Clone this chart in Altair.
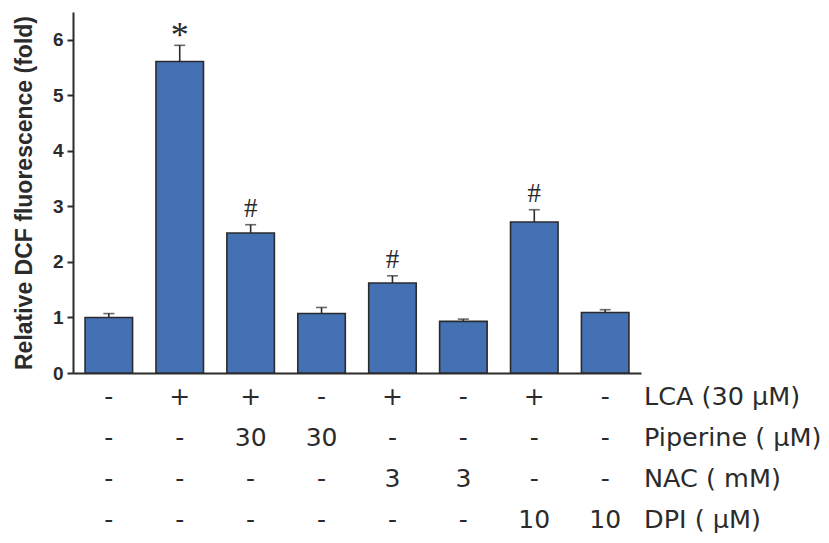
import altair as alt
import pandas as pd

# Treatment groups (one bar each) and measured DCF fluorescence
groups = ["g1", "g2", "g3", "g4", "g5", "g6", "g7", "g8"]
means = [1.00, 5.61, 2.52, 1.07, 1.62, 0.93, 2.72, 1.09]
errors = [0.07, 0.29, 0.15, 0.11, 0.13, 0.04, 0.22, 0.05]
marks = ["", "*", "#", "", "#", "", "#", ""]

# Treatment table printed under the bars
row_names = ["LCA (30 µM)", "Piperine ( µM)", "NAC ( mM)", "DPI ( µM)"]
lca = ["-", "+", "+", "-", "+", "-", "+", "-"]
piperine = ["-", "-", "30", "30", "-", "-", "-", "-"]
nac = ["-", "-", "-", "-", "3", "3", "-", "-"]
dpi = ["-", "-", "-", "-", "-", "-", "10", "10"]

W, H = 568, 361
BAR = "#4470b4"
INK = "#2b2b2b"
TABLE_FONT = "DejaVu Sans"

bars_df = pd.DataFrame({
    "group": groups,
    "mean": means,
    "top": [m + e for m, e in zip(means, errors)],
    "mark": marks,
})

table_rows = []
for name, cells in zip(row_names, [lca, piperine, nac, dpi]):
    for g, c in zip(groups, cells):
        table_rows.append({"group": g, "row": name, "cell": c})
table_df = pd.DataFrame(table_rows)
names_df = pd.DataFrame({"row": row_names})

x_enc = alt.X(
    "group:N",
    sort=groups,
    scale=alt.Scale(paddingInner=0.33, paddingOuter=0.17),
    axis=alt.Axis(labels=False, ticks=False, title=None, domainColor=INK,
                  domainWidth=2),
)
y_scale = alt.Scale(domain=[0, 6.5], nice=False)

base = alt.Chart(bars_df)

bars = base.mark_bar(color=BAR, stroke=INK, strokeWidth=1.6).encode(
    x=x_enc,
    y=alt.Y(
        "mean:Q",
        scale=y_scale,
        axis=alt.Axis(
            values=[0, 1, 2, 3, 4, 5, 6],
            format="d",
            title="Relative DCF fluorescence (fold)",
            titleFont="Liberation Sans", titleFontSize=23, titleFontWeight="bold",
            titleColor=INK, titlePadding=16,
            labelFont="Liberation Sans", labelFontSize=19, labelFontWeight="bold",
            labelColor=INK, labelPadding=4,
            tickSize=6, tickWidth=2, tickColor=INK,
            domainColor=INK, domainWidth=2, grid=False,
        ),
    ),
)

err_line = base.mark_rule(color=INK, strokeWidth=1.6).encode(
    x=alt.X("group:N", sort=groups),
    y=alt.Y("mean:Q", scale=y_scale),
    y2="top:Q",
)

err_cap = base.mark_tick(color=INK, size=11, thickness=1.6, orient="horizontal").encode(
    x=alt.X("group:N", sort=groups),
    y=alt.Y("top:Q", scale=y_scale),
)

star = base.transform_filter(alt.datum.mark == "*").mark_text(
    font="Liberation Serif", fontSize=36, color=INK, baseline="alphabetic", dy=2,
).encode(
    x=alt.X("group:N", sort=groups),
    y=alt.Y("top:Q", scale=y_scale),
    text="mark:N",
)

hash_mark = base.transform_filter(alt.datum.mark == "#").mark_text(
    font="Liberation Serif", fontSize=27, color=INK, baseline="alphabetic", dy=-8,
).encode(
    x=alt.X("group:N", sort=groups),
    y=alt.Y("top:Q", scale=y_scale),
    text="mark:N",
)

plot = alt.layer(bars, err_line, err_cap, star, hash_mark)

row_scale = alt.Scale(type="point", domain=row_names, range=[H + 24, H + 147],
                      padding=0)

cells = alt.Chart(table_df).mark_text(
    font=TABLE_FONT, fontSize=25, color=INK, baseline="middle",
).encode(
    x=alt.X("group:N", sort=groups),
    y=alt.Y("row:N", scale=row_scale, axis=None),
    text="cell:N",
)

names = alt.Chart(names_df).mark_text(
    font=TABLE_FONT, fontSize=25.5, color=INK, baseline="middle", align="left",
).encode(
    x=alt.value(W + 3),
    y=alt.Y("row:N", scale=row_scale, axis=None),
    text="row:N",
)

table = alt.layer(cells, names)

chart = alt.layer(plot, table).resolve_scale(y="independent").properties(
    width=W,
    height=H,
    background="white",
    autosize="none",
    padding={"left": 73, "top": 12, "right": 829 - 73 - W, "bottom": 543 - 12 - H},
).configure_view(strokeWidth=0, stroke="transparent")

chart.save("out.html", embed_options={"renderer": "svg", "actions": False})
